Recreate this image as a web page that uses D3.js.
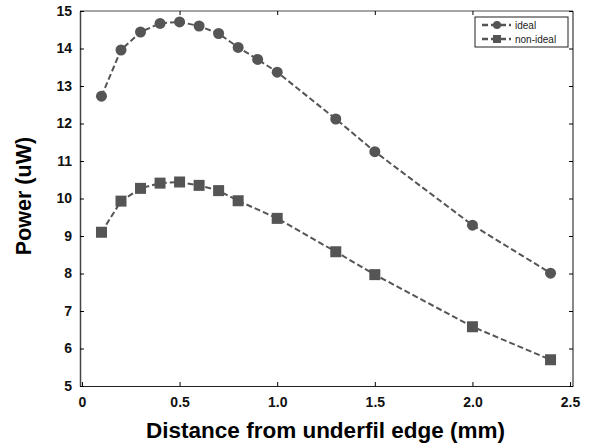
<!DOCTYPE html>
<html>
<head>
<meta charset="utf-8">
<script src="https://cdn.jsdelivr.net/npm/d3@7"></script>
<style>
  body { margin: 0; background: #fff; }
  text { font-family: "Liberation Sans", Arial, sans-serif; }
</style>
</head>
<body>
<div id="chart"></div>
<script>
// data
var distance = [0.1, 0.2, 0.3, 0.4, 0.5, 0.6, 0.7, 0.8, 0.9, 1.0, 1.3, 1.5, 2.0, 2.4];
var idealPower = [12.73, 13.96, 14.44, 14.67, 14.71, 14.6, 14.4, 14.03, 13.71, 13.37, 12.12, 11.25, 9.29, 8.01];
var distanceNonIdeal = [0.1, 0.2, 0.3, 0.4, 0.5, 0.6, 0.7, 0.8, 1.0, 1.3, 1.5, 2.0, 2.4];
var nonIdealPower = [9.10, 9.93, 10.27, 10.41, 10.44, 10.35, 10.21, 9.94, 9.47, 8.58, 7.97, 6.58, 5.70];
var xTicks = [0, 0.5, 1.0, 1.5, 2.0, 2.5];
var xTickLabels = ["0", "0.5", "1.0", "1.5", "2.0", "2.5"];
var yTicks = [5, 6, 7, 8, 9, 10, 11, 12, 13, 14, 15];

var width = 590, height = 444;
var margin = {top: 11, right: 17, bottom: 58, left: 80};
var w = width - margin.left - margin.right,
    h = height - margin.top - margin.bottom;

var svg = d3.select("#chart")
  .append("svg")
  .attr("width", width)
  .attr("height", height)
  .append("g")
  .attr("transform", "translate(" + margin.left + "," + margin.top + ")");

var x = d3.scaleLinear().domain([-0.01, 2.515]).range([0, w]);
var y = d3.scaleLinear().domain([5, 15]).range([h, 0]);

var markColor = "#555";

// frame: top and right gray
svg.append("line").attr("x1", 0).attr("x2", w).attr("y1", 0).attr("y2", 0)
  .attr("stroke", "#888").attr("stroke-width", 1.5);
svg.append("line").attr("x1", w).attr("x2", w).attr("y1", 0).attr("y2", h)
  .attr("stroke", "#888").attr("stroke-width", 2);

// bottom axis, ticks pointing inward
var xAxis = svg.append("g")
  .attr("transform", "translate(0," + h + ")")
  .call(d3.axisBottom(x).tickValues(xTicks).tickSizeInner(-4).tickSizeOuter(0)
    .tickFormat(function(d, i) { return xTickLabels[i]; }));
xAxis.select(".domain").attr("stroke", "#222").attr("stroke-width", 1.2);
xAxis.selectAll("text")
  .attr("y", 11)
  .style("font-size", "14px").style("font-weight", "bold").attr("fill", "#111")
  .style("font-family", "'Liberation Sans', Arial, sans-serif");

// left axis, ticks pointing inward
var yAxis = svg.append("g")
  .call(d3.axisLeft(y).tickValues(yTicks).tickSizeInner(-4).tickSizeOuter(0));
yAxis.select(".domain").attr("stroke", "#444").attr("stroke-width", 1.5);
yAxis.selectAll("text")
  .attr("x", -8)
  .style("font-size", "14px").style("font-weight", "bold").attr("fill", "#111")
  .style("font-family", "'Liberation Sans', Arial, sans-serif");

// right side ticks
var rAxis = svg.append("g")
  .attr("transform", "translate(" + w + ",0)")
  .call(d3.axisRight(y).tickValues(yTicks).tickSizeInner(-4).tickSizeOuter(0).tickFormat(""));
rAxis.select(".domain").remove();

// top ticks
var tAxis = svg.append("g")
  .call(d3.axisTop(x).tickValues(xTicks.slice(1, 5)).tickSizeInner(-4).tickSizeOuter(0).tickFormat(""));
tAxis.select(".domain").remove();

// lines
var lineIdeal = d3.line()
  .x(function(d, i) { return x(distance[i]); })
  .y(function(d) { return y(d); });
var lineNonIdeal = d3.line()
  .x(function(d, i) { return x(distanceNonIdeal[i]); })
  .y(function(d) { return y(d); });

svg.append("path").datum(idealPower)
  .attr("fill", "none").attr("stroke", markColor).attr("stroke-width", 2)
  .attr("stroke-dasharray", "6,3").attr("d", lineIdeal);
svg.append("path").datum(nonIdealPower)
  .attr("fill", "none").attr("stroke", markColor).attr("stroke-width", 2)
  .attr("stroke-dasharray", "6,3").attr("d", lineNonIdeal);

svg.selectAll(".dot").data(idealPower).enter().append("circle")
  .attr("cx", function(d, i) { return x(distance[i]); })
  .attr("cy", function(d) { return y(d); })
  .attr("r", 5.5).attr("fill", markColor);

svg.selectAll(".sq").data(nonIdealPower).enter().append("rect")
  .attr("x", function(d, i) { return x(distanceNonIdeal[i]) - 5.5; })
  .attr("y", function(d) { return y(d) - 5.5; })
  .attr("width", 11).attr("height", 11).attr("fill", markColor);

// legend
var lg = svg.append("g").attr("transform", "translate(" + (475 - margin.left) + "," + (17 - margin.top) + ")");
lg.append("rect").attr("width", 93).attr("height", 30)
  .attr("fill", "#fff").attr("stroke", "#222").attr("stroke-width", 1);
[["ideal", "circle"], ["non-ideal", "square"]].forEach(function(item, i) {
  var ly = 8 + i * 14;
  lg.append("line").attr("x1", 7).attr("x2", 36).attr("y1", ly).attr("y2", ly)
    .attr("stroke", markColor).attr("stroke-width", 2.5).attr("stroke-dasharray", "6,3");
  if (item[1] === "circle") {
    lg.append("circle").attr("cx", 22).attr("cy", ly).attr("r", 4).attr("fill", markColor);
  } else {
    lg.append("rect").attr("x", 18).attr("y", ly - 4).attr("width", 8).attr("height", 8).attr("fill", markColor);
  }
  lg.append("text").attr("x", 40).attr("y", ly + 3.5).text(item[0])
    .style("font-size", "10px").attr("fill", "#222");
});

// axis titles
svg.append("text")
  .attr("x", 325.5 - margin.left).attr("y", 438 - margin.top)
  .attr("text-anchor", "middle")
  .style("font-size", "22.5px").style("font-weight", "bold")
  .text("Distance from underfil edge (mm)");

svg.append("text")
  .attr("transform", "translate(" + (31 - margin.left) + "," + (196 - margin.top) + ") rotate(-90)")
  .attr("text-anchor", "middle")
  .style("font-size", "21.5px").style("font-weight", "bold")
  .text("Power (uW)");
</script>
</body>
</html>
